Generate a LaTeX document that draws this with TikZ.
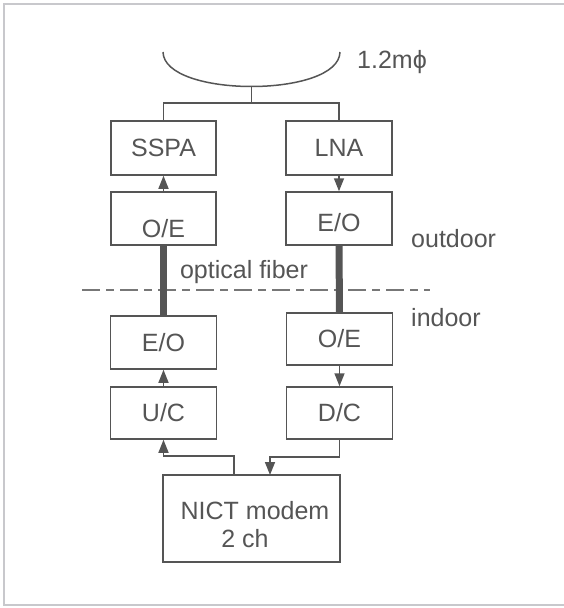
\documentclass[tikz,border=0pt]{standalone}
\usepackage{fontspec}
\setmainfont{Liberation Sans}
\usetikzlibrary{arrows.meta}
\definecolor{ln}{HTML}{555555}
\definecolor{tx}{HTML}{555555}
\definecolor{frm}{HTML}{C8C8CC}
\begin{document}
\begin{tikzpicture}[x=1pt,y=-1pt,
  box/.style={draw=ln,line width=1.5pt,rectangle,inner sep=0pt,text=tx,font=\fontsize{25}{29}\selectfont},
  lbl/.style={inner sep=0pt,text=tx,font=\fontsize{25}{29}\selectfont},
  wire/.style={draw=ln,line width=1.5pt},
  arr/.style={wire,-{Triangle[length=13pt,width=10pt]}},
  fiber/.style={draw=ln,line width=7pt},
  sep/.style={draw=ln!80,line width=1.1pt,dash pattern=on 18pt off 6pt on 8pt off 6pt}]
\useasboundingbox (0,0) rectangle (564,608);
% frame
\draw[frm,line width=2pt] (564,4) -- (4,4) -- (4,605) -- (564,605);
% dish
\coordinate (dl) at (163,52);
\coordinate (dr) at (340,52);
\coordinate (dishb) at (251.5,86);
\coordinate (split) at (251.5,103);
\draw[wire] (dl) .. controls (164,98) and (339,98) .. (dr);
\node[lbl,anchor=west] (ant) at (357,62) {1.2m\char"03D5};
% boxes
\node[box,minimum width=105pt,minimum height=54pt] (sspa) at (163.5,148) {SSPA};
\node[box,minimum width=106pt,minimum height=54pt] (lna) at (339,148) {LNA};
\node[box,minimum width=105pt,minimum height=53pt,text height=38pt,text depth=0pt] (oe1) at (163.5,218.5) {O/E};
\node[box,minimum width=106pt,minimum height=53pt,text height=25pt,text depth=0pt] (eo1) at (339,218.5) {E/O};
\node[box,minimum width=106pt,minimum height=53pt] (eo2) at (163.5,342.5) {E/O};
\node[box,minimum width=106pt,minimum height=52pt] (oe2) at (339.5,339) {O/E};
\node[box,minimum width=106pt,minimum height=52pt] (uc) at (163.5,413) {U/C};
\node[box,minimum width=106pt,minimum height=52pt] (dc) at (339.5,413) {D/C};
\node[box,minimum width=177pt,minimum height=87pt] (modem) at (251.5,518.5) {};
\node[lbl] (mt1) at (255,511) {NICT modem};
\node[lbl] (mt2) at (245,539) {2 ch};
% labels
\node[lbl] (of) at (244,272) {optical fiber};
\node[lbl,anchor=west] (outd) at (411,239) {outdoor};
\node[lbl,anchor=west] (ind) at (411,318) {indoor};
% separator
\coordinate (sl) at (82,290);
\coordinate (sr) at (430,290);
\draw[sep] (sl) -- (sr);
% connectors
\draw[wire] (dishb) -- (split);
\draw[wire] (sspa.north) |- (split) -| (lna.north);
\draw[arr] (oe1.north) -- (sspa.south);
\draw[arr] (lna.south) -- (eo1.north);
\draw[fiber] (oe1.south) -- (eo2.north);
\draw[fiber] (eo1.south) -- (oe2.north);
\draw[arr] (uc.north) -- (eo2.south);
\draw[arr] (oe2.south) -- (dc.north);
\coordinate (m1) at (234,475);
\coordinate (m2) at (270,475);
\draw[arr] (m1) -- ++(0,-19) -| (uc.south);
\draw[arr] (dc.south) -- ++(0,17) -| (m2);
\end{tikzpicture}
\end{document}
